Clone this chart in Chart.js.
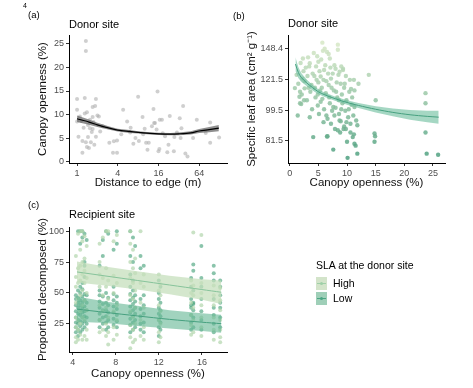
<!DOCTYPE html>
<html>
<head>
<meta charset="utf-8">
<script src="https://cdn.jsdelivr.net/npm/chart.js@4.4.0/dist/chart.umd.min.js"></script>
<style>
body { margin: 0; background: #fff; }
#wrap { position: relative; width: 473px; height: 388px; overflow: hidden; font-family: "Liberation Sans", Arial, sans-serif; }
#wrap canvas { position: absolute; left: 0; top: 0; }
.t { position: absolute; white-space: nowrap; color: #000; line-height: 13px; }
.key { position: absolute; width: 11px; height: 13px; }
.key i { position: absolute; left: 1px; right: 1px; top: 6px; height: 1px; }
.key b { position: absolute; left: 4px; top: 5px; width: 3px; height: 3px; border-radius: 2px; }
</style>
</head>
<body>
<div id="wrap">
  <canvas id="chartA" width="473" height="388"></canvas>
  <canvas id="chartB" width="473" height="388"></canvas>
  <canvas id="chartC" width="473" height="388"></canvas>

  <div class="t" style="left:23px;top:-1px;font-size:7px;">4</div>
  <div class="t" style="left:28px;top:8px;font-size:9.5px;">(a)</div>
  <div class="t" style="left:233px;top:9px;font-size:9.5px;">(b)</div>
  <div class="t" style="left:28px;top:198px;font-size:9.5px;">(c)</div>
  <div class="t" style="left:69px;top:18px;font-size:11px;">Donor site</div>
  <div class="t" style="left:288px;top:17px;font-size:11px;">Donor site</div>
  <div class="t" style="left:69px;top:208px;font-size:11px;">Recipient site</div>

  <div class="t" style="left:316px;top:259px;font-size:10.5px;">SLA at the donor site</div>
  <div class="key" style="left:316px;top:277px;background:#d3e4ca;"><i style="background:#9fd0a8"></i><b style="background:#9fd0a8"></b></div>
  <div class="key" style="left:316px;top:292px;background:#9fcfb8;"><i style="background:#4aa583"></i><b style="background:#4aa583"></b></div>
  <div class="t" style="left:333px;top:277px;font-size:10.5px;">High</div>
  <div class="t" style="left:333px;top:292px;font-size:10.5px;">Low</div>
</div>

<script>
// ---- (a) canopy openness vs distance to edge ----
const aDist = [1.0, 1.0, 1.0, 1.05, 1.1, 1.15, 1.2, 1.2, 1.25, 1.3, 1.3, 1.35, 1.35, 1.35, 1.4, 1.4, 1.45, 1.45, 1.5, 1.55,
               1.55, 1.6, 1.65, 1.7, 1.7, 1.7, 1.75, 1.8, 1.85, 1.9, 1.9, 2.0, 2.1, 2.2, 2.4, 3.0, 3.4, 3.5, 3.9, 3.9,
               4.5, 4.8, 5.5, 6.2, 6.1, 6.8, 7.3, 8.0, 8.2, 9.3, 9.5, 10.0, 10.5, 11.0, 11.5, 12.8, 13.5, 13.8, 14.2, 15.0,
               15.5, 16.0, 16.5, 16.7, 18.0, 18.5, 20.0, 21.6, 22.5, 23.5, 27.0, 27.5, 30.0, 33.0, 34.0, 35.0, 37.0, 40.0, 43.0, 52.0,
               59.0, 80.0, 93.0, 93.0, 126.0];
const aOpen = [13.3, 11.0, 8.5, 5.3, 9.6, 8.6, 4.4, 1.9, 7.2, 13.5, 10.2, 25.6, 23.5, 4.1, 10.5, 3.1, 7.8, 5.2, 2.9, 8.9,
               7.1, 4.1, 6.3, 11.6, 9.5, 6.9, 8.4, 3.6, 11.8, 13.3, 5.3, 9.8, 9.6, 6.4, 7.5, 4.0, 1.9, 4.3, 1.9, 4.5,
               5.8, 11.0, 8.5, 7.2, 6.2, 3.8, 5.0, 13.8, 4.4, 9.5, 5.8, 7.0, 4.0, 2.5, 4.0, 7.5, 11.2, 8.2, 8.2, 6.8,
               14.9, 2.2, 2.7, 8.9, 8.9, 6.0, 5.4, 2.0, 3.6, 9.7, 2.2, 5.2, 6.2, 9.2, 5.0, 7.1, 11.8, 1.7, 1.1, 5.0,
               8.9, 6.1, 8.3, 4.0, 5.1];
const aFitDist = [1, 1.5, 2, 3, 4, 6, 8, 12, 16, 24, 32, 48, 64, 90, 125];
const aFit     = [9.1, 8.4, 7.8, 7.1, 6.7, 6.4, 6.2, 6.0, 5.9, 5.85, 5.9, 6.1, 6.5, 6.8, 7.1];
const aFitLo   = [8.4, 7.85, 7.35, 6.75, 6.4, 6.1, 5.95, 5.75, 5.65, 5.6, 5.6, 5.75, 6.05, 6.25, 6.45];
const aFitHi   = [9.8, 8.95, 8.25, 7.45, 7.0, 6.7, 6.45, 6.25, 6.15, 6.1, 6.2, 6.45, 6.95, 7.35, 7.75];
const aXTicks = [1, 4, 16, 64];
const aYTicks = [0, 5, 10, 15, 20, 25];

// ---- (b) specific leaf area vs canopy openness ----
const bOpen = [0.9, 1.2, 1.4, 1.5, 1.7, 1.8, 1.8, 1.9, 2.0, 2.1, 2.3, 2.4, 2.6, 2.6, 2.8, 3.0, 3.2, 3.4, 3.5, 3.5,
               3.6, 3.8, 3.9, 4.1, 4.2, 4.3, 4.5, 4.6, 4.8, 4.9, 4.9, 5.0, 5.1, 5.2, 5.4, 5.4, 5.5, 5.6, 5.7, 5.8,
               5.9, 6.0, 6.1, 6.2, 6.3, 6.4, 6.5, 6.5, 6.6, 6.6, 6.7, 6.8, 6.8, 7.0, 7.0, 7.2, 7.4, 7.6, 7.6, 7.7,
               7.8, 7.8, 7.9, 8.0, 8.0, 8.2, 8.3, 8.4, 8.4, 8.4, 8.5, 8.6, 8.7, 8.8, 8.9, 9.0, 9.1, 9.2, 9.3, 9.3,
               9.4, 9.5, 9.6, 9.7, 9.8, 9.9, 10.0, 10.1, 10.2, 10.4, 10.5, 10.6, 10.7, 10.8, 11.0, 11.1, 11.2, 11.2, 11.3, 11.3,
               11.3, 11.5, 11.6, 11.8, 11.8, 13.8, 14.8, 14.8, 14.9, 15.0, 23.7, 23.7, 23.7, 23.9, 25.9,
               4.0, 4.4, 5.3, 5.7, 6.9, 7.3, 7.5, 8.1, 8.6, 9.0, 9.5, 10.3, 2.2, 3.1, 5.0, 6.0, 7.1, 9.8, 10.9, 8.9,
               6.4, 4.7, 3.3, 2.5, 5.9, 7.2, 8.7, 9.9, 10.6, 12.0];
const bSla  = [114.7, 125, 96, 118, 108.5, 104, 112, 135, 103.5, 110, 139, 128, 120, 114.5, 131, 106, 140, 132, 134.7, 95,
               112, 117, 100, 83.5, 144, 124, 108, 132, 141, 110, 102.5, 119, 97, 128, 123.6, 105, 138, 115, 154, 146,
               121, 100, 148, 133, 111, 96, 83.8, 145, 94, 84, 126, 143, 117, 139, 104, 122, 99, 77, 101.5, 113,
               96, 133, 88, 101, 130, 119, 108, 152, 147, 87.3, 125, 97, 127.5, 86, 92.5, 132, 110, 104, 129, 130,
               88, 89.5, 118, 99, 88, 106, 81, 73, 95, 112, 121, 91, 114, 103, 83.5, 96, 121, 85, 101.5, 80,
               113, 79, 93, 90.2, 75, 125, 85.5, 81, 84, 106, 111, 104, 86, 75, 74.5,
               126, 115, 113, 107, 108, 115, 126, 112, 106, 100, 115, 100, 122, 124, 136, 129, 131, 124, 108, 118,
               120, 121, 115, 106, 92, 91, 93, 92, 86, 118];
const bFitOpen = [1, 1.5, 2, 3, 4, 5, 6, 8, 10, 12, 15, 18, 21, 24, 26];
const bFit     = [134, 127, 123, 118.5, 115, 112, 110, 107, 104.5, 102.5, 100, 98, 96.5, 95.5, 95];
const bFitLo   = [128, 122.5, 119.5, 116, 113, 110.2, 108.4, 105.5, 103, 100.9, 98, 95.5, 93.5, 92, 91];
const bFitHi   = [140, 131.5, 126.5, 121, 117, 113.8, 111.6, 108.5, 106, 104.1, 102, 100.5, 99.5, 99, 99];
const bXTicks = [0, 5, 10, 15, 20, 25];
const bYTicks = [81.45, 99.48, 121.51, 148.41];

// ---- (c) proportion decomposed at recipient sites ----
const cSites = [4.3, 4.5, 4.7, 4.9, 5.1, 5.3, 6.5, 6.8, 7.1, 7.3, 7.8, 8.1, 9.35, 9.6, 9.8, 10.3, 10.6, 12.0, 12.15, 15.0, 15.2, 15.95, 17.1, 17.7];
const cHigh = [
  [10, 14, 22, 30, 42, 55, 63, 80], [12, 20, 28, 45, 58, 70, 98], [16, 25, 35, 48, 60, 72, 85, 100], [12, 30, 40, 52, 65, 75, 92, 100],
  [15, 28, 44, 58, 68, 78, 96], [12, 20, 36, 50, 62, 88], [18, 28, 40, 55, 65, 75, 90], [20, 35, 48, 62, 95],
  [15, 25, 38, 55, 70, 100], [8, 18, 30, 45, 60, 100], [12, 22, 35, 50, 64, 92], [16, 28, 40, 58, 97],
  [5, 14, 24, 35, 48, 62, 75, 90, 100], [10, 20, 30, 45, 58, 70, 85], [12, 25, 38, 52, 66, 78], [15, 28, 42, 58, 100],
  [12, 22, 38, 55, 65], [10, 18, 28, 40, 52, 65], [14, 25, 35, 48, 57], [16, 24, 32, 42, 50, 60],
  [18, 28, 38, 48, 56, 99], [15, 22, 30, 40, 50, 58, 97], [12, 20, 30, 40, 48, 56], [10, 14, 20, 28, 36, 44, 54]
];
const cLow = [
  [18, 22, 26, 30, 35, 40, 45, 48], [15, 20, 25, 28, 33, 38, 42, 46, 52, 100], [18, 23, 27, 32, 36, 40, 44, 50, 55, 90, 100], [20, 25, 30, 34, 38, 42, 47, 53, 58, 95, 100],
  [22, 27, 31, 35, 39, 44, 49, 63, 72, 75, 98], [25, 30, 36, 42, 48, 93], [22, 28, 33, 38, 43, 48, 52, 72], [25, 30, 36, 41, 47, 80, 93],
  [20, 26, 31, 36, 42, 50, 100], [22, 28, 34, 40, 46, 98], [24, 29, 34, 39, 44, 49, 55, 85], [22, 27, 32, 37, 42, 47, 90, 100],
  [18, 24, 29, 34, 39, 44, 49, 55, 65, 80, 100], [20, 26, 31, 36, 41, 46, 52, 60, 75, 95], [22, 28, 33, 38, 43, 48, 88], [20, 25, 31, 37, 45, 70, 80],
  [18, 26, 33, 40, 48, 72], [15, 22, 28, 33, 38, 45, 50, 60], [20, 26, 31, 36, 42, 55], [20, 26, 32, 38, 40, 45, 55, 62],
  [22, 30, 36, 41, 42, 52, 68, 73], [20, 28, 35, 45, 55, 62, 88], [18, 25, 32, 38, 45, 60, 66, 72], [22, 30, 38, 42, 48, 55, 60]
];
const cFitX    = [4.4, 7, 10, 13, 16, 17.8];
const cHighFit = [67, 63.8, 60.1, 56.4, 52.7, 50.5];
const cHighHi  = [75.5, 71.5, 67.5, 64, 61, 60];
const cHighLo  = [58.5, 56, 52.7, 48.8, 44.4, 41];
const cLowFit  = [36.8, 34.2, 31.3, 28.5, 26.2, 25];
const cLowHi   = [47, 43, 39.5, 36, 33.5, 32.3];
const cLowLo   = [26.5, 25.5, 23.2, 21, 19, 17.7];
const cXTicks = [4, 8, 12, 16];
const cYTicks = [25, 50, 75, 100];

// helpers
const FONT = 'Liberation Sans';
const pairs = (xs, ys) => xs.map((x, i) => ({ x: x, y: ys[i] }));

function axis(o) {
  const horizontal = o.position === 'bottom';
  return {
    type: o.type || 'linear',
    position: o.position,
    min: o.min,
    max: o.max,
    grid: { display: true, drawOnChartArea: false, drawTicks: true, tickLength: 3, color: '#333' },
    border: { display: true, color: '#000', width: 1 },
    ticks: {
      color: '#4d4d4d', font: { family: FONT, size: 9 }, padding: 2,
      maxRotation: 0, autoSkip: false,
      callback: o.fmt || ((v) => String(v))
    },
    title: {
      display: true, text: o.title, color: '#111',
      font: { family: FONT, size: 11.5 },
      padding: horizontal ? { top: 0, bottom: 0 } : { top: o.titlePad || 0, bottom: 0 }
    },
    afterBuildTicks: (s) => { s.ticks = o.ticks.map((v) => ({ value: v })); },
    afterFit: (s) => { if (horizontal) s.height = o.size; else s.width = o.size; }
  };
}

function band(xs, hi, lo, color) {
  return [
    { data: pairs(xs, hi), showLine: true, pointRadius: 0, borderWidth: 0, borderColor: 'rgba(0,0,0,0)', backgroundColor: color, fill: '+1' },
    { data: pairs(xs, lo), showLine: true, pointRadius: 0, borderWidth: 0, borderColor: 'rgba(0,0,0,0)', fill: false }
  ];
}

function fitLine(xs, ys, color, width) {
  return { data: pairs(xs, ys), showLine: true, pointRadius: 0, borderColor: color, borderWidth: width, fill: false, tension: 0.3 };
}

const common = {
  responsive: false,
  animation: false,
  events: [],
  plugins: { legend: { display: false }, tooltip: { enabled: false } }
};

// (a)
new Chart(document.getElementById('chartA').getContext('2d'), {
  type: 'scatter',
  data: {
    datasets: [
      fitLine(aFitDist, aFit, '#000', 1.2),
      ...band(aFitDist, aFitHi, aFitLo, 'rgba(95,95,95,0.7)'),
      { data: pairs(aDist, aOpen), pointRadius: 2, borderWidth: 0, backgroundColor: 'rgba(175,175,175,0.6)' }
    ]
  },
  options: Object.assign({}, common, {
    layout: { padding: { left: 30, right: 246, top: 35, bottom: 198 } },
    scales: {
      x: axis({ type: 'logarithmic', position: 'bottom', min: 0.76, max: 165, ticks: aXTicks, title: 'Distance to edge (m)', size: 27 }),
      y: axis({ position: 'left', min: -0.3, max: 26.9, ticks: aYTicks, title: 'Canopy openness (%)', size: 39, titlePad: 6 })
    }
  })
});

// (b)
function slaColour(ctx) {
  const v = ctx.raw ? ctx.raw.y : 100;
  let t = (Math.log(v) - Math.log(73)) / (Math.log(152) - Math.log(73));
  t = Math.max(0, Math.min(1, t));
  const lo = [78, 160, 128], hi = [214, 231, 198];
  const c = lo.map((l, i) => Math.round(l + (hi[i] - l) * t));
  return 'rgba(' + c.join(',') + ',0.85)';
}

new Chart(document.getElementById('chartB').getContext('2d'), {
  type: 'scatter',
  data: {
    datasets: [
      fitLine(bFitOpen, bFit, '#46a07f', 1),
      ...band(bFitOpen, bFitHi, bFitLo, 'rgba(110,190,158,0.62)'),
      { data: pairs(bOpen, bSla), pointRadius: 2.2, borderWidth: 0, backgroundColor: slaColour }
    ]
  },
  options: Object.assign({}, common, {
    layout: { padding: { left: 245, right: 28, top: 35, bottom: 198 } },
    scales: {
      x: axis({ position: 'bottom', min: -0.3, max: 27.1, ticks: bXTicks, title: 'Canopy openness (%)', size: 27 }),
      y: axis({ type: 'logarithmic', position: 'left', min: 70.6, max: 161.8, ticks: bYTicks,
                title: 'Specific leaf area (cm² g⁻¹)', size: 43, titlePad: 0, fmt: (v) => Number(v).toFixed(1) })
    }
  })
});

// (c)
const cHighPts = [], cLowPts = [];
cSites.forEach((x, i) => {
  cHigh[i].forEach((y) => cHighPts.push({ x: x, y: y }));
  cLow[i].forEach((y) => cLowPts.push({ x: x, y: y }));
});

new Chart(document.getElementById('chartC').getContext('2d'), {
  type: 'scatter',
  data: {
    datasets: [
      fitLine(cFitX, cHighFit, '#86c39a', 1),
      fitLine(cFitX, cLowFit, '#46a07f', 1),
      ...band(cFitX, cHighHi, cHighLo, 'rgba(196,222,186,0.72)'),
      ...band(cFitX, cLowHi, cLowLo, 'rgba(104,184,150,0.62)'),
      { data: cHighPts, pointRadius: 2, borderWidth: 0, backgroundColor: 'rgba(178,214,172,0.7)' },
      { data: cLowPts, pointRadius: 2, borderWidth: 0, backgroundColor: 'rgba(76,164,126,0.65)' }
    ]
  },
  options: Object.assign({}, common, {
    layout: { padding: { left: 30, right: 246, top: 227, bottom: 7 } },
    scales: {
      x: axis({ position: 'bottom', min: 3.66, max: 18.33, ticks: cXTicks, title: 'Canopy openness (%)', size: 29 }),
      y: axis({ position: 'left', min: 2, max: 103.5, ticks: cYTicks, title: 'Proportion decomposed (%)', size: 39, titlePad: 6 })
    }
  })
});
</script>
</body>
</html>
